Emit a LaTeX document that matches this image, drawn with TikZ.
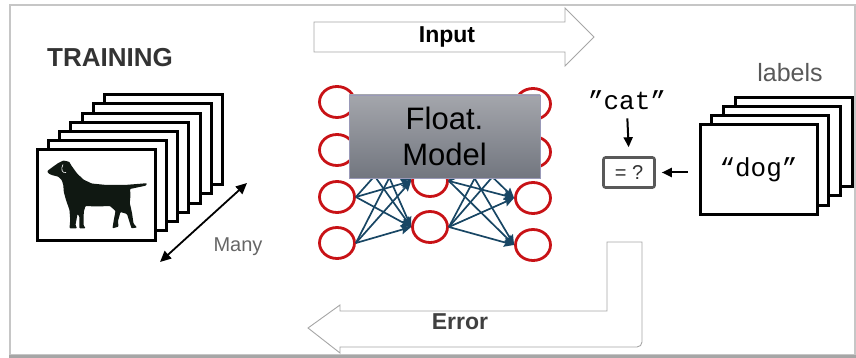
\documentclass[tikz,border=0pt]{standalone}
\usepackage{fontspec}
\setmainfont{Liberation Sans}
\setmonofont{Liberation Mono}
\usetikzlibrary{arrows.meta,positioning,shapes.geometric,calc}
\definecolor{neuronred}{RGB}{200,18,22}
\definecolor{synblue}{RGB}{24,70,100}
\definecolor{modeltop}{RGB}{164,166,172}
\definecolor{modelbot}{RGB}{114,118,127}
\definecolor{dogfill}{RGB}{16,24,18}

\begin{document}
\begin{tikzpicture}[x=1pt,y=-1pt,>=Stealth,
    neuron/.style={ellipse,draw=neuronred,line width=2.8pt,fill=white,minimum width=35pt,minimum height=31pt,inner sep=0pt},
    syn/.style={draw=synblue,line width=1.7pt,-{Stealth[length=10pt,width=9pt,inset=1.5pt]}},
    card/.style={draw=black,line width=3pt,fill=white},
    blockarrow/.style={draw=gray!70,line width=0.9pt,fill=white},
    pointer/.style={line width=2pt,-{Stealth[length=10pt,width=9pt,inset=0pt]}},
    twoway/.style={line width=1.8pt,{Stealth[length=11pt,width=10pt,inset=0pt]}-{Stealth[length=11pt,width=10pt,inset=0pt]}},
    fsize/.style={font=\fontsize{#1}{#1}\selectfont}]
  \useasboundingbox (0,0) rectangle (856,358);
  \draw[gray!45,line width=2pt] (10,5) rectangle (855,355); \draw[gray!70,line width=3pt] (9,356.5) -- (856,356.5);

  \node[font=\fontsize{26}{26}\selectfont\bfseries,text=black!80] (training) at (110,58) {TRAINING};
  \foreach \i in {6,...,0} \draw[card,shift={(11.3*\i,-9.2*\i)}] (37,150) rectangle (155,240);
  \fill[dogfill,rounded corners=0.8pt] (47.3,171) -- (54,166) -- (58.3,163) -- (63.3,160.5) -- (69.3,161.8) -- (71,165)
    -- (76.7,173) -- (83.3,179.5) -- (91.7,183.5) -- (106.7,185) -- (123.3,185) -- (127,184.8) -- (147,183.2)
    -- (146,185.6) -- (130,189) -- (130.5,195) -- (129.8,203) -- (132,213) -- (133.5,223.5) -- (137,227.5) -- (131.5,228.3)
    -- (129.5,222) -- (127,214) -- (120.5,212) -- (118,221) -- (118.5,226.7) -- (112.5,228.3) -- (113.5,221.7) -- (115.5,211)
    -- (110,206) -- (96.7,206.5) -- (85.5,206) -- (83.8,211.7) -- (83.5,225) -- (85.5,228.3) -- (79.3,228.3) -- (79.5,216.7)
    -- (77.5,214) -- (75.5,225) -- (77,228.3) -- (69.5,228.3) -- (70.2,220) -- (69.5,210) -- (66,200) -- (63.8,192)
    -- (63.3,185) -- (61.7,180) -- (58.3,176.7) -- (51.7,175) -- (48.3,173.3) -- cycle;
  \draw[white,line width=0.6pt] (63,164.5) .. controls (60.5,169) and (62,173.5) .. (66,172.5);
  \coordinate (manylo) at (160,262); \coordinate (manyhi) at (247,183);
  \draw[twoway] (manylo) -- (manyhi);
  \node[fsize=20,text=black!60] (many) at (238,247) {Many};

  \draw[blockarrow] (314,22) -- (565,22) -- (565,8) -- (594,37) -- (565,66) -- (565,52) -- (314,52) -- cycle;
  \node[font=\fontsize{23}{23}\selectfont\bfseries] (input) at (447,37) {Input};
  \draw[blockarrow] (607,242) -- (642,242) -- (642,342) arc[start angle=0,end angle=90,radius=5] -- (340,347) -- (340,353)
    -- (308,328) -- (340,305) -- (340,311) -- (607,311) -- cycle;
  \node[font=\fontsize{23}{23}\selectfont\bfseries,text=black!75] (error) at (460,322) {Error};

  \foreach \y [count=\i] in {102,150,197,243} \node[neuron] (l\i) at (337,\y) {};
  \foreach \y [count=\i] in {135,181,227} \node[neuron] (m\i) at (430,\y) {};
  \foreach \y [count=\i] in {104,152,198,245} \node[neuron] (r\i) at (533,\y) {};
  \foreach \i in {1,...,4} \foreach \j in {1,2,3} \draw[syn] (l\i.east) -- (m\j.west);
  \foreach \j in {1,2,3} \foreach \k in {1,...,4} \draw[syn] (m\j.east) -- (r\k.west);
  \node[draw=black!70!blue!40,line width=0.9pt,top color=modeltop,bottom color=modelbot,minimum width=191pt,minimum height=83pt,
    align=center,font=\fontsize{31}{36}\selectfont] (model) at (444.5,136.5) {Float.\\Model};

  \node[font=\fontsize{26}{26}\selectfont\ttfamily,inner sep=0pt,anchor=base] (cat) at (627,110) {”cat”};
  \node[draw=black!65,line width=2.6pt,rounded corners=2pt,minimum width=51pt,minimum height=30pt,fsize=20,text=black!80] (eq) at (629,172.5) {= ?};
  \draw[pointer,shorten <=8pt,shorten >=9pt] (cat.south) -- (eq.north);
  \foreach \i in {3,2,1} \draw[card,shift={(11.7*\i,-9*\i)}] (700,125) rectangle (817,214);
  \node[card,minimum width=117pt,minimum height=89pt,inner sep=0pt,font=\fontsize{26}{26}\selectfont\ttfamily] (dogcard) at (758.5,169.5) {“dog”};
  \draw[pointer,shorten <=10.6pt,shorten >=6pt] (dogcard.west |- eq.east) -- (eq.east);
  \node[fsize=25,text=black!65] (labels) at (790,73) {labels};
\end{tikzpicture}
\end{document}
